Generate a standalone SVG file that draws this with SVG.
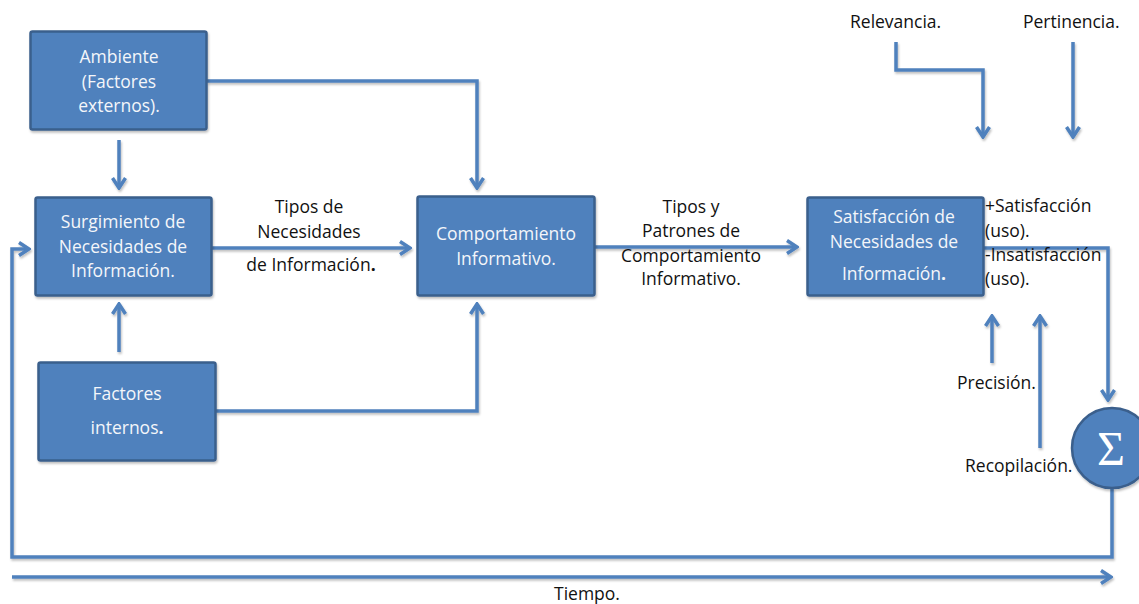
<svg xmlns="http://www.w3.org/2000/svg" width="1139" height="604" viewBox="0 0 1139 604">
<style>
.box{fill:#4F81BD;stroke:#3A5F8C;stroke-width:2.5}
.bt{font-family:"Open Sans","Liberation Sans",sans-serif;font-size:17.5px;fill:#F4F6FA;text-anchor:middle}
.lt{font-family:"Open Sans","Liberation Sans",sans-serif;font-size:17.5px;fill:#111}
.c{text-anchor:middle}
.ln{fill:none;stroke:#4F81BD;stroke-width:3.5;stroke-linejoin:miter}
.ar{marker-end:url(#ah)}
</style>
<defs>
<marker id="ah" markerUnits="userSpaceOnUse" viewBox="0 0 14 16" refX="12" refY="8" markerWidth="14" markerHeight="16" orient="auto">
<path d="M2,1.5 L12,8 L2,14.5" fill="none" stroke="#4F81BD" stroke-width="3.5"/>
</marker>
<filter id="sh" x="-10%" y="-10%" width="120%" height="130%">
<feDropShadow dx="1" dy="2" stdDeviation="1.2" flood-color="#000" flood-opacity="0.25"/>
</filter>
</defs>
<rect width="1139" height="604" fill="#FFFFFF"/>
<g id="connectors" filter="url(#sh)">
<polyline class="ln ar" points="207,81 477,81 477,188"/>
<line class="ln ar" x1="119" y1="140" x2="119" y2="188"/>
<line class="ln ar" x1="119" y1="352" x2="119" y2="304"/>
<polyline class="ln ar" points="216,411 477,411 477,304"/>
<line class="ln ar" x1="212" y1="248" x2="410" y2="248"/>
<line class="ln ar" x1="595" y1="247" x2="797" y2="247"/>
<polyline class="ln ar" points="983,248 1108,248 1108,400"/>
<polyline class="ln ar" points="1112,488 1112,557 12,557 12,249 29,249"/>
<line class="ln ar" x1="12" y1="577" x2="1111" y2="577"/>
<polyline class="ln ar" points="896,42 896,70 983,70 983,137"/>
<line class="ln ar" x1="1073" y1="42" x2="1073" y2="137"/>
<line class="ln ar" x1="992" y1="363" x2="992" y2="316"/>
<line class="ln ar" x1="1040" y1="448" x2="1040" y2="316"/>
</g>
<g id="ambiente">
<rect class="box" x="30.5" y="31.5" width="176" height="98" rx="2" filter="url(#sh)"/>
<text class="bt" x="119" y="63">Ambiente</text>
<text class="bt" x="119" y="88">(Factores</text>
<text class="bt" x="119" y="112">externos).</text>
</g>
<g id="surgimiento">
<rect class="box" x="35.5" y="197.5" width="176" height="98" rx="2" filter="url(#sh)"/>
<text class="bt" x="123" y="228">Surgimiento de</text>
<text class="bt" x="123" y="253">Necesidades  de</text>
<text class="bt" x="123" y="277">Información.</text>
</g>
<g id="factores-internos">
<rect class="box" x="38.5" y="362.5" width="177" height="98" rx="2" filter="url(#sh)"/>
<text class="bt" x="127" y="400">Factores</text>
<text class="bt" x="127" y="434">internos<tspan font-weight="bold">.</tspan></text>
</g>
<g id="comportamiento">
<rect class="box" x="417.5" y="196.5" width="177" height="99" rx="2" filter="url(#sh)"/>
<text class="bt" x="506" y="240">Comportamiento</text>
<text class="bt" x="506" y="265">Informativo.</text>
</g>
<g id="satisfaccion">
<rect class="box" x="807.5" y="197.5" width="176" height="98" rx="2" filter="url(#sh)"/>
<text class="bt" x="894" y="223">Satisfacción de</text>
<text class="bt" x="894" y="248">Necesidades  de</text>
<text class="bt" x="894" y="280">Información<tspan font-weight="bold">.</tspan></text>
</g>
<g id="sigma">
<circle cx="1112" cy="448" r="40" fill="#4F81BD" stroke="#3A5F8C" stroke-width="2.5" filter="url(#sh)"/>
<text x="1111" y="465" font-family="'Liberation Serif',serif" font-size="48" fill="#FFFFFF" text-anchor="middle">Σ</text>
</g>
<g id="labels">
<text class="lt c" x="309" y="213">Tipos de</text>
<text class="lt c" x="309" y="238">Necesidades</text>
<text class="lt c" x="311" y="271">de Información<tspan font-weight="bold">.</tspan></text>
<text class="lt c" x="691" y="213">Tipos y</text>
<text class="lt c" x="691" y="237">Patrones de</text>
<text class="lt c" x="691" y="262">Comportamiento</text>
<text class="lt c" x="691" y="285">Informativo.</text>
<text class="lt" x="985" y="212">+Satisfacción</text>
<text class="lt" x="985" y="237">(uso).</text>
<text class="lt" x="985" y="261">-Insatisfacción</text>
<text class="lt" x="985" y="285">(uso).</text>
<text class="lt" x="850" y="28">Relevancia.</text>
<text class="lt" x="1023" y="28">Pertinencia.</text>
<text class="lt" x="957" y="389">Precisión.</text>
<text class="lt" x="965" y="472">Recopilación.</text>
<text class="lt c" x="587" y="600">Tiempo.</text>
</g>
</svg>
